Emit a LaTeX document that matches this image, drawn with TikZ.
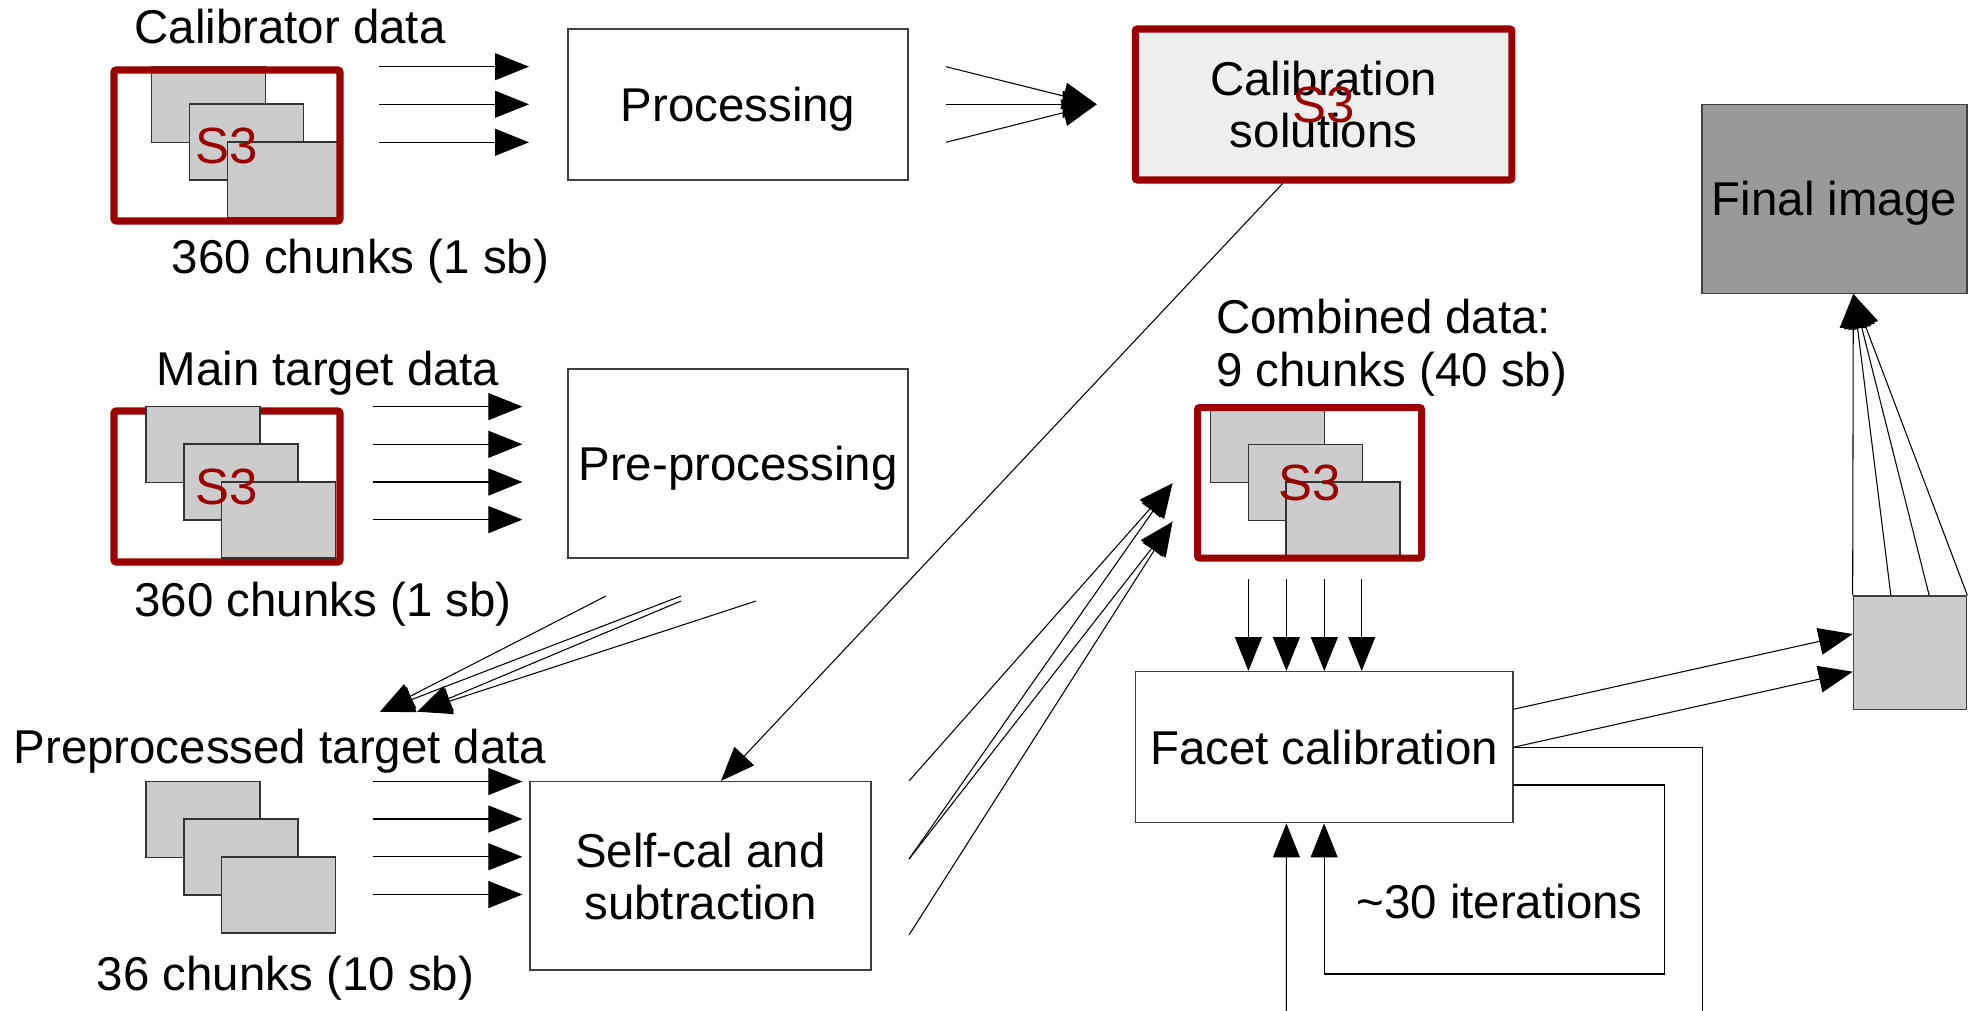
\documentclass[tikz,border=0pt]{standalone}
\usepackage{fontspec}
\setmainfont{Liberation Sans}
\usetikzlibrary{arrows.meta,positioning,calc}
\definecolor{sthreered}{HTML}{990000}
\definecolor{chunkgray}{HTML}{CCCCCC}
\definecolor{solgray}{HTML}{EEEEEE}
\definecolor{imagegray}{HTML}{999999}
\tikzset{
    stepbox/.style={
           draw=black!75, line width=0.4pt,
           fill=white,
           inner sep=0pt,
           align=center,
           text depth=0pt,
           },
    chunk/.style={
           draw=black!80, line width=0.4pt,
           fill=chunkgray,
           minimum width=1.14cm, minimum height=0.76cm,
           inner sep=0pt, on grid,
           },
    sthree/.style={
           draw=sthreered, line width=2pt,
           rounded corners=0.6pt,
           minimum width=2.26cm, minimum height=1.51cm,
           inner sep=0pt,
           },
    sthreetext/.style={
           text=sthreered, inner sep=0pt, text depth=0pt,
           font=\fontsize{14.5}{16}\selectfont,
           },
    caption/.style={anchor=base, inner sep=0pt},
    flow/.style={-{Triangle[length=3.4mm,width=2.7mm]}, line width=0.3pt},
}

\begin{document}
\begin{tikzpicture}[x=1cm, y=-1cm, font=\fontsize{13.5}{14.8}\selectfont]
\useasboundingbox (0,0) rectangle (19.75,10.10);

% calibrator data
\node[caption] (caltitle) at (2.90,0.433) {Calibrator data};
\node[chunk] (cal1) at (2.087,1.043) {};
\node[chunk, below right=0.378cm and 0.378cm of cal1] (cal2) {};
\node[chunk, below right=0.378cm and 0.378cm of cal2] (cal3) {};
\node[sthree] (calframe) at (2.27,1.455) {};
\node[sthreetext] (calsthree) at (calframe) {S3};
\node[caption] (calcount) at (3.605,2.73) {360 chunks (1 sb)};

% main target data
\node[caption] (maintitle) at (3.28,3.85) {Main target data};
\node[sthree] (mainframe) at (2.27,4.865) {};
\node[chunk] (main1) at (2.03,4.443) {};
\node[chunk, below right=0.378cm and 0.378cm of main1] (main2) {};
\node[chunk, below right=0.378cm and 0.378cm of main2] (main3) {};
\node[sthreetext] (mainsthree) at (mainframe) {S3};
\node[caption] (maincount) at (3.23,6.16) {360 chunks (1 sb)};

% preprocessed target data
\node[caption] (pretitle) at (2.80,7.63) {Preprocessed target data};
\node[chunk] (pre1) at (2.03,8.192) {};
\node[chunk, below right=0.378cm and 0.378cm of pre1] (pre2) {};
\node[chunk, below right=0.378cm and 0.378cm of pre2] (pre3) {};
\node[caption] (precount) at (2.855,9.90) {36 chunks (10 sb)};

% processing steps
\node[stepbox, minimum width=3.40cm, minimum height=1.51cm] (proc) at (7.38,1.045) {Processing};
\node[stepbox, draw=sthreered, line width=2pt, fill=solgray, rounded corners=0.6pt,
      minimum width=3.767cm, minimum height=1.51cm] (sol) at (13.236,1.045) {Calibration\\solutions};
\node[sthreetext] (solsthree) at (sol) {S3};
\node[stepbox, fill=imagegray, minimum width=2.648cm, minimum height=1.89cm] (final) at (18.344,1.988) {Final image};
\node[stepbox, minimum width=3.40cm, minimum height=1.89cm] (preproc) at (7.38,4.635) {Pre-processing};
\node[stepbox, minimum width=3.41cm, minimum height=1.885cm] (selfcal) at (7.005,8.758) {Self-cal and\\subtraction};
\node[stepbox, minimum width=3.778cm, minimum height=1.51cm] (facet) at (13.241,7.472) {Facet calibration};
\node[stepbox, fill=chunkgray, minimum width=1.133cm, minimum height=1.133cm] (outbox) at (19.10,6.527) {};

% combined data
\node[anchor=base west, inner sep=0pt] (combtitle) at (12.155,3.333) {Combined data:};
\node[anchor=base west, inner sep=0pt] (combcount) at (12.155,3.867) {9 chunks (40 sb)};
\node[chunk] (comb1) at (12.674,4.445) {};
\node[chunk, below right=0.378cm and 0.378cm of comb1] (comb2) {};
\node[chunk, below right=0.378cm and 0.378cm of comb2] (comb3) {};
\node[sthree, minimum width=2.24cm, minimum height=1.505cm] (combframe) at (13.095,4.828) {};
\node[sthreetext] (combsthree) at (combframe) {S3};

\node[caption] (itertext) at (14.995,9.18) {\textasciitilde30 iterations};

% calibrator -> processing -> solutions
\foreach \y [count=\i] in {0.667,1.043,1.423}{
  \coordinate (calout\i) at (3.786,\y);
  \coordinate (procin\i) at (5.29,\y);
  \draw[flow] (calout\i) -- (procin\i);
}
\coordinate (solin) at (10.967,1.043);
\foreach \y [count=\i] in {0.667,1.043,1.423}{
  \coordinate (procout\i) at (9.46,\y);
  \draw[flow] (procout\i) -- (solin);
}
\draw[flow] ([xshift=-4.1mm]sol.south) -- ([xshift=2.05mm]selfcal.north);

% main target -> pre-processing -> preprocessed
\foreach \y [count=\i] in {4.066,4.443,4.82,5.196}{
  \coordinate (mainout\i) at (3.727,\y);
  \coordinate (ppin\i) at (5.224,\y);
  \draw[flow] (mainout\i) -- (ppin\i);
}
\coordinate (ppout1) at (6.06,5.96);
\coordinate (ppout2) at (6.81,5.96);
\coordinate (ppout3) at (6.81,6.01);
\coordinate (ppout4) at (7.56,6.01);
\coordinate (prein1) at (3.80,7.117);
\coordinate (prein2) at (4.173,7.117);
\draw[flow] (ppout1) -- (prein1);
\draw[flow] (ppout2) -- (prein1);
\draw[flow] (ppout3) -- (prein2);
\draw[flow] (ppout4) -- (prein2);

% preprocessed -> self-cal -> combined
\foreach \y [count=\i] in {7.815,8.19,8.568,8.945}{
  \coordinate (preout\i) at (3.727,\y);
  \coordinate (selfin\i) at (5.224,\y);
  \draw[flow] (preout\i) -- (selfin\i);
}
\coordinate (selfout1) at (9.09,7.81);
\coordinate (selfout2) at (9.09,8.59);
\coordinate (selfout3) at (9.09,9.35);
\coordinate (combin1) at (11.725,4.833);
\coordinate (combin2) at (11.725,5.217);
\draw[flow] (selfout1) -- (combin1);
\draw[flow] (selfout2) -- (combin1);
\draw[flow] (selfout2) -- (combin2);
\draw[flow] (selfout3) -- (combin2);

% combined -> facet calibration
\foreach \x [count=\i] in {12.484,12.864,13.243,13.617}{
  \coordinate (combout\i) at (\x,5.79);
  \draw[flow] (combout\i) -- (combout\i |- facet.north);
}

% iterations
\coordinate (loopcorner) at (16.64,9.74);
\coordinate (exitdown) at (17.027,10.3);
\coordinate (entryup) at (12.864,10.3);
\draw[flow] ([yshift=-3.78mm]facet.east) -| (loopcorner) -| (facet.south);
\draw[line width=0.3pt] (facet.east) -| (exitdown);
\draw[flow] (entryup) -- ([xshift=-3.77mm]facet.south);

% facet calibration -> final image
\draw[flow] ([yshift=3.8mm]facet.east) -- ([yshift=1.87mm]outbox.west);
\draw[flow] (facet.east) -- ([yshift=-1.9mm]outbox.west);
\coordinate (finin) at ([xshift=1.89mm]final.south);
\foreach \f in {0,0.333,0.667,1}{
  \draw[flow] ($(outbox.north west)!\f!(outbox.north east)$) -- (finin);
}
\end{tikzpicture}
\end{document}
